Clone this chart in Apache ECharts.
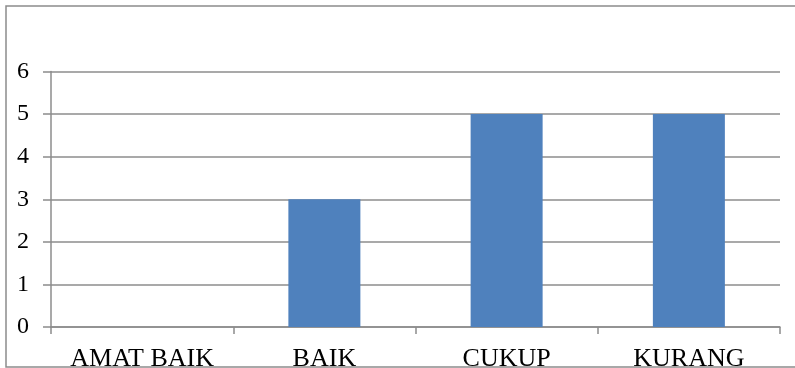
<!DOCTYPE html>
<html>
<head>
<meta charset="utf-8">
<script src="https://cdn.jsdelivr.net/npm/echarts@6/dist/echarts.min.js"></script>
<style>
  html, body { margin: 0; padding: 0; background: #fff; }
  #chart { width: 795px; height: 368px; }
</style>
</head>
<body>
<div id="chart"></div>
<script>
// kategori dan jumlah
const categories = ['AMAT BAIK', 'BAIK', 'CUKUP', 'KURANG'];
const values = [0, 3, 5, 5];
const yTicks = [0, 1, 2, 3, 4, 5, 6];

const chart = echarts.init(document.getElementById('chart'));

const gray = '#8c8c8c';
const serif = '"Liberation Serif", "Times New Roman", serif';

const option = {
  animation: false,
  grid: {
    left: 51,
    right: 15,
    top: 71.5,
    bottom: 41,
    containLabel: false,
    outerBoundsMode: 'none'
  },
  // bingkai luar
  graphic: [{
    type: 'rect',
    shape: { x: 6, y: 6, width: 820, height: 361 },
    style: { fill: 'none', stroke: gray, lineWidth: 1.5 },
    silent: true
  }],
  xAxis: {
    type: 'category',
    data: categories,
    boundaryGap: true,
    axisLine: { lineStyle: { color: gray, width: 1.5 } },
    axisTick: { show: true, length: 7, interval: 0, lineStyle: { color: gray, width: 1.5 } },
    axisLabel: { color: '#000', fontFamily: serif, fontSize: 26, margin: 19, interval: 0, hideOverlap: false },
    splitLine: { show: false }
  },
  yAxis: {
    type: 'value',
    min: yTicks[0],
    max: yTicks[yTicks.length - 1],
    interval: 1,
    axisLine: { show: true, lineStyle: { color: gray, width: 1.5 } },
    axisTick: { show: true, length: 8, lineStyle: { color: gray, width: 1.5 } },
    axisLabel: { color: '#000', fontFamily: serif, fontSize: 24, margin: 22, padding: [6, 0, 0, 0] },
    splitLine: { lineStyle: { color: gray, width: 1.5 } }
  },
  series: [{
    type: 'bar',
    data: values,
    barWidth: 72,
    itemStyle: { color: '#4f81bd' }
  }]
};

chart.setOption(option);
</script>
</body>
</html>
